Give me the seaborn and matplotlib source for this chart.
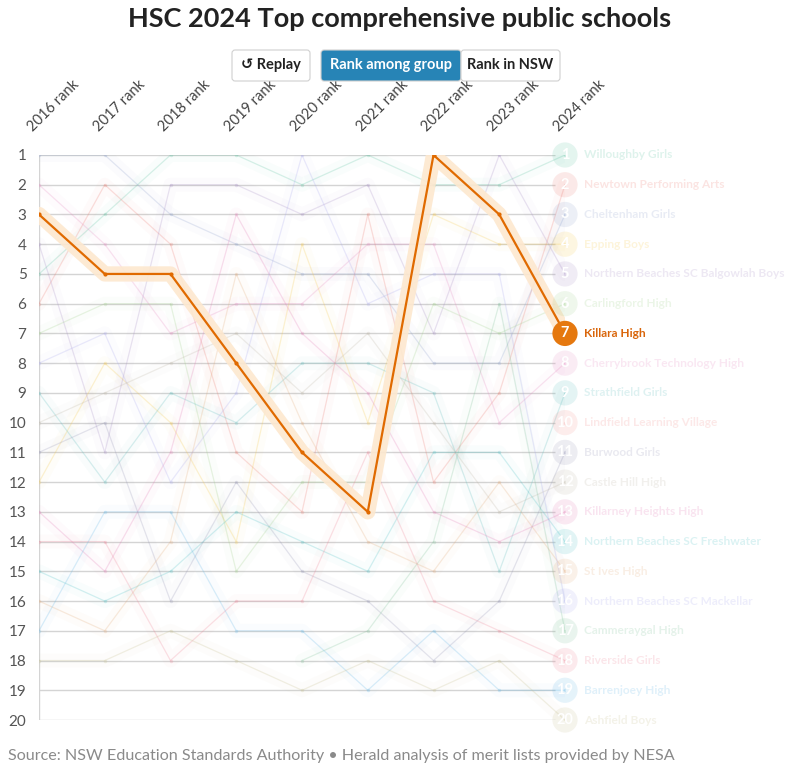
"""Bump chart: HSC 2024 top comprehensive public schools, Killara High highlighted."""
import numpy as np
import pandas as pd
import matplotlib
matplotlib.use("Agg")
import matplotlib.pyplot as plt
from matplotlib.patches import FancyBboxPatch
import seaborn as sns

YEARS = ["2016", "2017", "2018", "2019", "2020", "2021", "2022", "2023", "2024"]
SCHOOLS = [
    "Willoughby Girls", "Newtown Performing Arts", "Cheltenham Girls", "Epping Boys",
    "Northern Beaches SC Balgowlah Boys", "Carlingford High", "Killara High",
    "Cherrybrook Technology High", "Strathfield Girls", "Lindfield Learning Village",
    "Burwood Girls", "Castle Hill High", "Killarney Heights High",
    "Northern Beaches SC Freshwater", "St Ives High", "Northern Beaches SC Mackellar",
    "Cammeraygal High", "Riverside Girls", "Barrenjoey High", "Ashfield Boys",
]
N = None
willoughby = [5, 3, 1, 1, 2, 1, 2, 2, 1]
newtown = [6, 2, 4, 11, 13, 3, 12, 9, 2]
cheltenham = [1, 1, 3, 4, 5, 5, 8, 8, 3]
epping = [12, 8, 10, 14, 4, 10, 3, 4, 4]
balgowlah = [4, 11, 2, 2, 3, 2, 7, 1, 5]
carlingford = [7, 6, 6, 15, 12, 12, 6, 7, 6]
killara = [3, 5, 5, 8, 11, 13, 1, 3, 7]
cherrybrook = [2, 4, 7, 6, 6, 4, 4, 10, 8]
strathfield = [9, 12, 9, 10, 8, 8, 9, 15, 9]
lindfield = [N, N, N, N, N, N, N, N, 10]
burwood = [11, 10, 16, 12, 15, 16, 18, 16, 11]
castle_hill = [10, 9, 8, 7, 9, 7, 10, 13, 12]
killarney = [13, 15, 11, 3, 7, 9, 13, 14, 13]
freshwater = [15, 16, 15, 13, 14, 15, 11, 11, 14]
st_ives = [16, 17, 14, 5, 10, 14, 15, 12, 15]
mackellar = [8, 7, 12, 9, 1, 6, 5, 5, 16]
cammeraygal = [N, N, N, N, 18, 17, 14, 6, 17]
riverside = [14, 14, 18, 16, 16, 11, 16, 17, 18]
barrenjoey = [17, 13, 13, 17, 17, 19, 17, 19, 19]
ashfield = [18, 18, 17, 18, 19, 18, 19, 18, 20]
RANKS = [willoughby, newtown, cheltenham, epping, balgowlah, carlingford, killara,
         cherrybrook, strathfield, lindfield, burwood, castle_hill, killarney,
         freshwater, st_ives, mackellar, cammeraygal, riverside, barrenjoey, ashfield]
COLORS = ["#5cc2a0", "#ec7a70", "#8d9fcb", "#f5c94a", "#a58cc4", "#9fd08a", "#e5780f",
          "#e58ac0", "#5cbcbc", "#f3908c", "#9393b4", "#bdb5a5", "#e27ab4", "#4cc0c4",
          "#e2aa78", "#a9a8ee", "#7cc096", "#ee8094", "#62b6e6", "#c6bf8e"]
HIGHLIGHT = "Killara High"

rows = []
for school, ranks in zip(SCHOOLS, RANKS):
    for i, r in enumerate(ranks):
        rows.append({"school": school, "x": i, "rank": np.nan if r is None else r})
df = pd.DataFrame(rows)

sns.set_theme(style="white")
plt.rcParams["font.family"] = ["Lato", "DejaVu Sans"]

fig = plt.figure(figsize=(7.86, 7.71), dpi=100)
ax = fig.add_axes([39 / 786, 1 - 720 / 771, 526 / 786, 565 / 771])
ax.set_xlim(0, 8)
ax.set_ylim(20, 1)

# grid + left rule
ax.hlines(range(1, 21), 0, 7.85, color="#d4d4d4", lw=1, zorder=0)
ax.vlines(0, 1, 20, color="#d4d4d4", lw=1, zorder=0)
for s in ax.spines.values():
    s.set_visible(False)

palette = dict(zip(SCHOOLS, COLORS))
faded = df[df.school != HIGHLIGHT]
# soft halo then the faded lines
sns.lineplot(data=faded, x="x", y="rank", hue="school", palette=palette, units="school",
             estimator=None, sort=False, lw=10, alpha=0.03, legend=False, ax=ax)
sns.lineplot(data=faded, x="x", y="rank", hue="school", palette=palette, units="school",
             estimator=None, sort=False, lw=0.9, alpha=0.24, legend=False, ax=ax,
             marker="o", markersize=2.5, markeredgewidth=0)

hl = df[df.school == HIGHLIGHT]
sns.lineplot(data=hl, x="x", y="rank", color="#fde8cf", lw=11, alpha=0.9,
             estimator=None, sort=False, legend=False, ax=ax, solid_capstyle="round",
             solid_joinstyle="round")
sns.lineplot(data=hl, x="x", y="rank", color="#e06a00", lw=1.6, estimator=None,
             sort=False, legend=False, ax=ax, marker="o", markersize=3, markeredgewidth=0)

# end circles + labels
last = df[df.x == 8]
for _, row in last.iterrows():
    is_hl = row.school == HIGHLIGHT
    col = palette[row.school]
    ax.scatter(8, row["rank"], s=330, color=col, alpha=1 if is_hl else 0.16,
               edgecolor="none", clip_on=False, zorder=5)
    ax.text(8, row["rank"], str(int(row["rank"])), color="white", fontsize=10.5,
            fontweight="bold", ha="center", va="center", zorder=6, clip_on=False)
    ax.annotate(row.school, xy=(8, row["rank"]), xytext=(14, 0), textcoords="offset points",
                color="#d9650a" if is_hl else col, alpha=1 if is_hl else 0.2,
                fontsize=8.6, fontweight="bold", va="center", ha="left", annotation_clip=False)

# y tick labels
ax.set_yticks(range(1, 21))
ax.set_yticklabels([str(i) for i in range(1, 21)], fontsize=11, color="#555555")
ax.tick_params(axis="y", length=0, pad=9)
ax.set_xticks([])
ax.set_xlabel("")
ax.set_ylabel("")

# rotated year headers
for i, y in enumerate(YEARS):
    ax.text(i - 0.06, 0.3, f"{y} rank", rotation=45, rotation_mode="anchor", ha="left",
            va="bottom", fontsize=10.5, color="#444444", clip_on=False)

fig.text(400 / 786, 1 - 19 / 771, "HSC 2024 Top comprehensive public schools", ha="center",
         va="center", fontsize=19.5, fontweight="bold", color="#222222")

# buttons
def button(x0, x1, label, fill, tc):
    y0, y1 = 1 - 81 / 771, 1 - 50 / 771
    fig.patches.append(FancyBboxPatch((x0 / 786, y0), (x1 - x0) / 786, y1 - y0,
                                      boxstyle="round,pad=0,rounding_size=0.004",
                                      transform=fig.transFigure, facecolor=fill,
                                      edgecolor="#d0d0d0", lw=0.8))
    fig.text((x0 + x1) / 2 / 786, (y0 + y1) / 2, label, ha="center", va="center",
             fontsize=10.5, fontweight="bold", color=tc,
             family=["Lato", "DejaVu Sans"])

button(232, 310, "↺ Replay", "white", "#222222")
button(321, 461, "Rank among group", "#2784b6", "white")
button(461, 560, "Rank in NSW", "white", "#222222")

fig.text(8 / 786, 1 - 756 / 771,
         "Source: NSW Education Standards Authority • Herald analysis of merit lists provided by NESA",
         ha="left", va="center", fontsize=11.6, color="#8a8a8a")

fig.savefig("out.png", dpi=100)
